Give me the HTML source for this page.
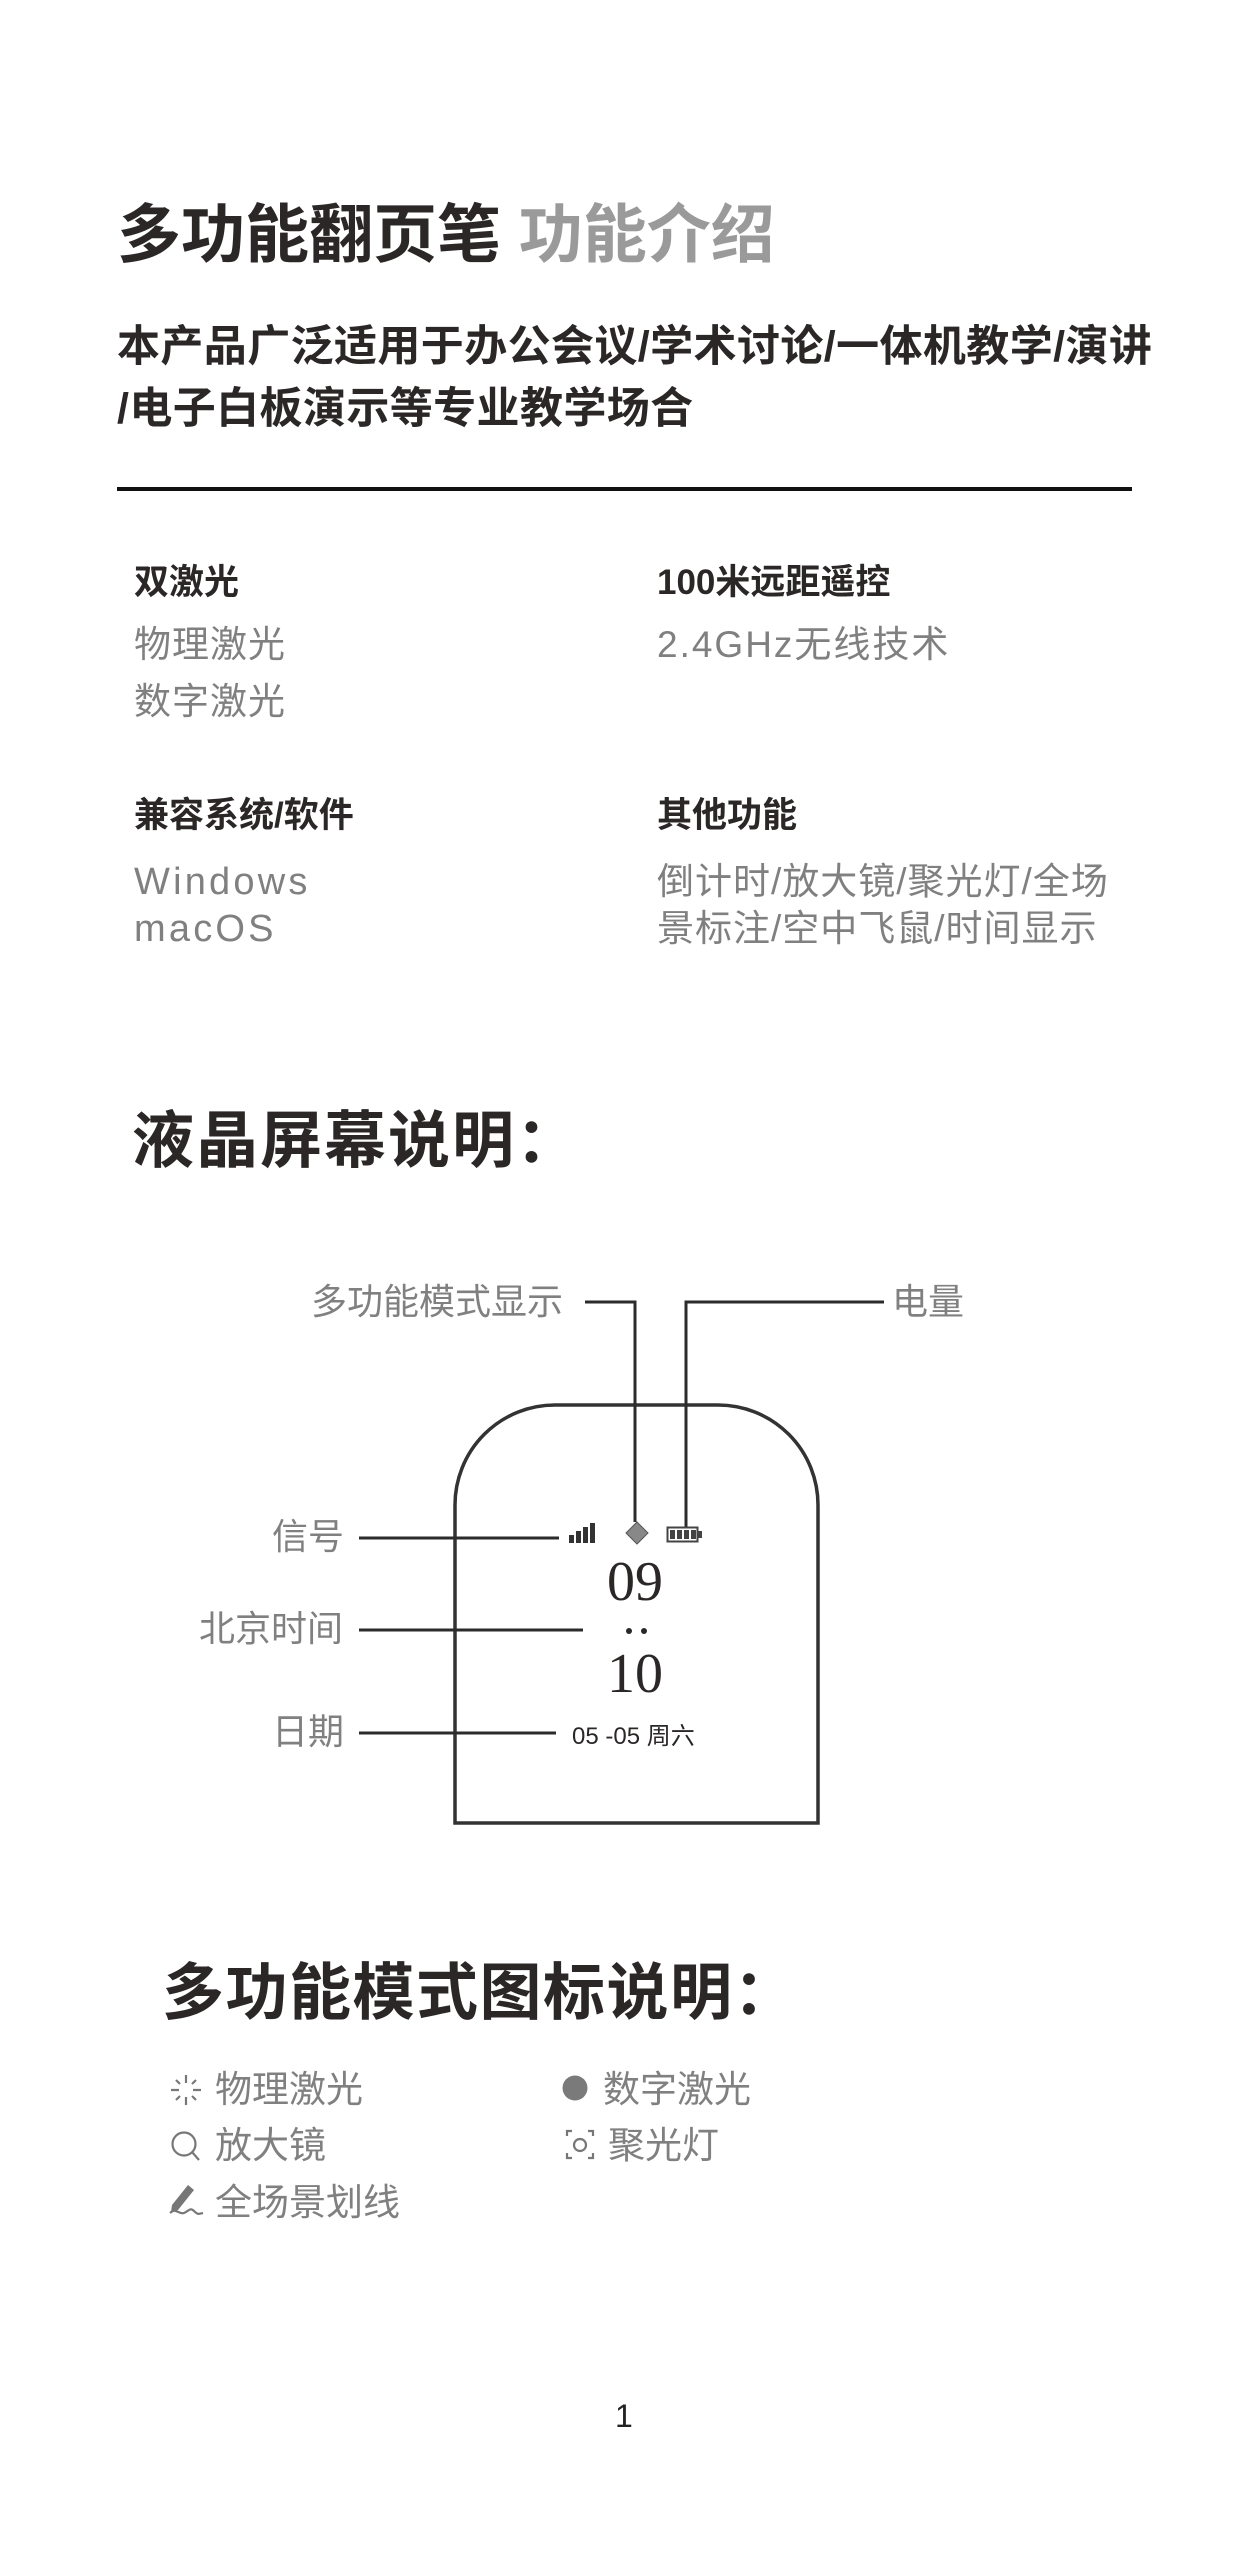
<!DOCTYPE html>
<html><head><meta charset="utf-8">
<style>
body{margin:0;background:#fff;}
#p{position:relative;width:1253px;height:2560px;overflow:hidden;background:#fff;font-family:"Liberation Sans","Noto Sans CJK SC",sans-serif;}
.t{position:absolute;white-space:nowrap;}
.d{color:#2b2727;font-weight:bold;}
.g{color:#808080;}
.b{font-size:37px;line-height:40px;letter-spacing:1px;}
</style></head><body><div id="p">

<div class="t d" style="left:117px;top:198px;font-size:64px;line-height:74px;">多功能翻页笔 <span style="color:#9a9a9a">功能介绍</span></div>
<div class="t d" style="left:117px;top:322px;font-size:43px;line-height:50px;letter-spacing:0.4px;">本产品广泛适用于办公会议/学术讨论/一体机教学/演讲</div>
<div class="t d" style="left:117px;top:384px;font-size:43px;line-height:50px;letter-spacing:0.4px;">/电子白板演示等专业教学场合</div>
<div style="position:absolute;left:117px;top:487px;width:1015px;height:4px;background:#111;"></div>

<div class="t d" style="left:134px;top:563px;font-size:35px;line-height:40px;">双激光</div>
<div class="t g b" style="left:134px;top:625px;">物理激光</div>
<div class="t g b" style="left:134px;top:682px;">数字激光</div>
<div class="t d" style="left:657px;top:563px;font-size:35px;line-height:40px;">100米远距遥控</div>
<div class="t g b" style="left:657px;top:625px;letter-spacing:2px;">2.4GHz无线技术</div>

<div class="t d" style="left:134px;top:796px;font-size:35px;line-height:40px;">兼容系统/软件</div>
<div class="t g" style="left:134px;top:862px;font-size:38px;line-height:40px;letter-spacing:3.2px;">Windows</div>
<div class="t g" style="left:134px;top:909px;font-size:38px;line-height:40px;letter-spacing:3.2px;">macOS</div>
<div class="t d" style="left:657px;top:796px;font-size:35px;line-height:40px;">其他功能</div>
<div class="t g b" style="left:657px;top:862px;letter-spacing:1px;">倒计时/放大镜/聚光灯/全场</div>
<div class="t g b" style="left:657px;top:909px;letter-spacing:1px;">景标注/空中飞鼠/时间显示</div>

<div class="t d" style="left:132px;top:1107px;font-size:62px;line-height:70px;letter-spacing:2px;">液晶屏幕说明：</div>

<svg style="position:absolute;left:0;top:0" width="1253" height="2560">
 <g fill="none" stroke="#333" stroke-width="3.5">
  <path d="M455 1823 L455 1505 A100 100 0 0 1 555 1405 L718 1405 A100 100 0 0 1 818 1505 L818 1823 Z"/>
 </g>
 <g fill="none" stroke="#2b2b2b" stroke-width="3">
  <path d="M585 1302 L635 1302 L635 1522"/>
  <path d="M884 1302 L686 1302 L686 1527"/>
  <path d="M359 1538 L559 1538"/>
  <path d="M359 1630 L583 1630"/>
  <path d="M359 1733 L556 1733"/>
 </g>
 <g fill="#333">
  <rect x="569" y="1535" width="5" height="8"/>
  <rect x="576" y="1531" width="5" height="12"/>
  <rect x="583" y="1527" width="5" height="16"/>
  <rect x="590" y="1523" width="5" height="20"/>
 </g>
 <path d="M637 1522 L648 1533 L637 1544 L626 1533 Z" fill="#888" stroke="#555" stroke-width="1"/>
 <rect x="667.5" y="1527.5" width="30" height="14" fill="none" stroke="#444" stroke-width="2"/>
 <rect x="698" y="1531" width="4" height="7" fill="#444"/>
 <g fill="#444"><rect x="670" y="1530" width="5" height="9"/><rect x="677" y="1530" width="5" height="9"/><rect x="684" y="1530" width="5" height="9"/><rect x="691" y="1530" width="5" height="9"/></g>
 <circle cx="629" cy="1631" r="3" fill="#2b2727"/><circle cx="644" cy="1631" r="3" fill="#2b2727"/>

 <g stroke="#777" stroke-width="2.2" fill="none">
  <path d="M186 2075v8M186 2097v8M171 2090h8M193 2090h8M176 2080l4 4M192 2096l4 4M196 2080l-4 4M180 2096l-4 4"/>
  <circle cx="184" cy="2144" r="11.5"/><path d="M192 2152l7 8"/>
  <path d="M567 2136v-5h5M588 2131h5v5M593 2153v5h-5M572 2158h-5v-5"/>
  <circle cx="580" cy="2145" r="6"/>
  <path d="M170 2213c6-6 9 2 14 0s6-6 10-2 5 3 9 2"/>
 </g>
 <circle cx="575" cy="2088" r="12.5" fill="#7a7a7a"/>
 <path d="M172 2205l16-20 6 5-16 20-7 2z" fill="#777"/>
</svg>

<div class="t g" style="left:311px;top:1282px;font-size:36px;line-height:40px;">多功能模式显示</div>
<div class="t g" style="left:892px;top:1282px;font-size:36px;line-height:40px;">电量</div>
<div class="t g" style="left:272px;top:1517px;font-size:36px;line-height:40px;">信号</div>
<div class="t g" style="left:199px;top:1609px;font-size:36px;line-height:40px;">北京时间</div>
<div class="t g" style="left:272px;top:1712px;font-size:36px;line-height:40px;">日期</div>

<div class="t" style="left:535px;top:1550px;width:200px;text-align:center;font-family:'Liberation Serif',serif;font-size:56px;line-height:64px;color:#2b2727;">09</div>
<div class="t" style="left:535px;top:1642px;width:200px;text-align:center;font-family:'Liberation Serif',serif;font-size:56px;line-height:64px;color:#2b2727;">10</div>
<div class="t" style="left:572px;top:1722px;font-size:24px;line-height:30px;color:#2b2727;">05 -05 周六</div>

<div class="t d" style="left:162px;top:1958px;font-size:62px;line-height:72px;letter-spacing:1.5px;">多功能模式图标说明：</div>
<div class="t g" style="left:215px;top:2070px;font-size:37px;line-height:40px;">物理激光</div>
<div class="t g" style="left:215px;top:2126px;font-size:37px;line-height:40px;">放大镜</div>
<div class="t g" style="left:215px;top:2183px;font-size:37px;line-height:40px;">全场景划线</div>
<div class="t g" style="left:603px;top:2070px;font-size:37px;line-height:40px;">数字激光</div>
<div class="t g" style="left:608px;top:2126px;font-size:37px;line-height:40px;">聚光灯</div>

<div class="t" style="left:615px;top:2398px;font-size:32px;line-height:36px;color:#222;">1</div>
</div></body></html>
